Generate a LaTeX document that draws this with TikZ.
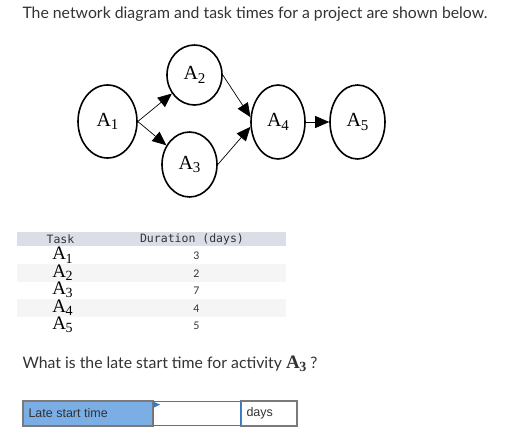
\documentclass[tikz,border=0pt]{standalone}
\usepackage{fontspec}
\setmainfont{Liberation Serif}
\newfontfamily\uisans{Lato}
\newfontfamily\arialf{Liberation Sans}
\newfontfamily\monof{DejaVu Sans Mono}
\usetikzlibrary{shapes.geometric,arrows.meta}
\definecolor{txt}{HTML}{333333}
\definecolor{hdr}{HTML}{DCDEE7}
\definecolor{band}{HTML}{F5F5F5}
\definecolor{lsblue}{HTML}{7AAEE5}
\definecolor{inblue}{HTML}{3C78C0}
\definecolor{boxgray}{HTML}{7A7A7A}
\newcommand{\Anode}[1]{{\fontsize{20}{20}\selectfont A\kern-0.3pt\raisebox{-3.5pt}{\fontsize{15}{15}\selectfont #1}}}
\newcommand{\Atab}[1]{{\fontsize{19}{19}\selectfont A\kern-0.3pt\raisebox{-3.5pt}{\fontsize{14}{14}\selectfont #1}}}
\tikzset{
  evt/.style={draw, ellipse, line width=1.6pt, inner sep=0pt, text=black},
  arr/.style={line width=0.7pt, -{Triangle[length=14pt,width=12pt]}},
  ui/.style={font=\uisans\fontsize{15.8}{18}\selectfont, text=txt},
  mono/.style={font=\monof\fontsize{11.5}{13}\selectfont, text=txt},
  num/.style={font=\uisans\fontsize{10.5}{12}\selectfont, text=txt},
  cell/.style={draw=boxgray, line width=1.2pt}
}
\begin{document}
\begin{tikzpicture}[x=1pt,y=-1pt]
\useasboundingbox (0,0) rectangle (511,447);
\fill[white] (0,0) rectangle (511,447);
\node[ui, anchor=west] (title) at (19,14) {The network diagram and task times for a project are shown below.};
% network
\node[evt, minimum width=59pt, minimum height=73pt] (A1) at (107.5,121.5) {\Anode{1}};
\node[evt, minimum width=55pt, minimum height=60pt] (A2) at (194.5,75) {\Anode{2}};
\node[evt, minimum width=55pt, minimum height=65pt] (A3) at (189.5,164.5) {\Anode{3}};
\node[evt, minimum width=54pt, minimum height=74pt] (A4) at (278,122) {\Anode{4}};
\node[evt, minimum width=55pt, minimum height=74pt] (A5) at (357.5,122) {\Anode{5}};
\draw[arr] (A1.east) -- (A2);
\draw[arr] (A1.east) -- (A3);
\draw[arr] (A2.east) -- (A4.170);
\draw[arr] (A3.east) -- (A4.190);
\draw[arr] (A4.east) -- (A5.west);
% table
\fill[hdr] (17,232) rectangle (286,245.5);
\fill[band] (17,264) rectangle (286,281.5);
\fill[band] (17,299) rectangle (286,317);
\node[mono] (thTask) at (60.5,239) {Task};
\node[mono] (thDur) at (192,239) {Duration (days)};
\node (t1) at (62.5,255) {\Atab{1}};
\node (t2) at (62.5,272.5) {\Atab{2}};
\node (t3) at (62.5,290) {\Atab{3}};
\node (t4) at (62.5,307.5) {\Atab{4}};
\node (t5) at (62.5,325) {\Atab{5}};
\node[num] (d1) at (196.5,256) {3};
\node[num] (d2) at (196.5,273.5) {2};
\node[num] (d3) at (196.5,291) {7};
\node[num] (d4) at (196.5,308.5) {4};
\node[num] (d5) at (196.5,326) {5};
% question
\node[ui, anchor=west] (q) at (19,364) {What is the late start time for activity {\rmfamily\bfseries\Atab{3}} ?};
% answer
\draw[cell, fill=lsblue] (23,401) rectangle (153,426);
\node[font=\arialf\fontsize{12.5}{14}\selectfont, text=txt, anchor=west] (ls) at (25,413.5) {Late start time};
\draw[cell] (241,401) rectangle (297,426);
\node[font=\arialf\fontsize{12.5}{14}\selectfont, text=txt, anchor=west] (dy) at (243,413.5) {days};
\draw[inblue, line width=1.2pt, fill=white] (153.6,401.6) rectangle (240.4,425.4);
\fill[inblue] (154,402) -- (160,404.5) -- (154,407.5) -- cycle;
\end{tikzpicture}
\end{document}
